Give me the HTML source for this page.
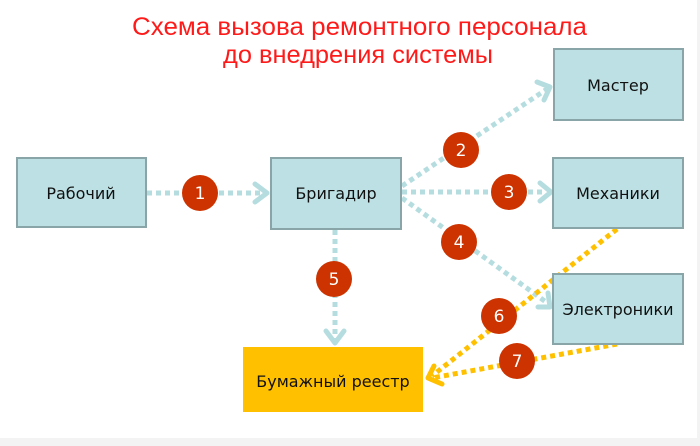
<!DOCTYPE html>
<html><head><meta charset="utf-8"><style>
html,body{margin:0;padding:0;background:#fff;}
svg{display:block;}
text{font-family:"DejaVu Sans","Liberation Sans",sans-serif;}
</style></head><body>
<svg width="700" height="446" viewBox="0 0 700 446" xmlns="http://www.w3.org/2000/svg">
<rect x="0" y="0" width="700" height="446" fill="#fff"/>
<rect x="0" y="438" width="700" height="8" fill="#f3f3f3"/>
<rect x="697" y="0" width="3" height="446" fill="#f3f3f3"/>
<text x="132" y="35" font-size="25" fill="#ff1a1a" textLength="455" lengthAdjust="spacingAndGlyphs" style="font-family:'Liberation Sans',sans-serif">Схема вызова ремонтного персонала</text>
<text x="223" y="63" font-size="25" fill="#ff1a1a" textLength="270" lengthAdjust="spacingAndGlyphs" style="font-family:'Liberation Sans',sans-serif">до внедрения системы</text>

<g stroke="#b5dde0" stroke-width="5" fill="none">
<g stroke-dasharray="5 4">
<line x1="147" y1="193" x2="262" y2="193"/>
<line x1="402" y1="186" x2="547" y2="89"/>
<line x1="402" y1="192" x2="546" y2="192"/>
<line x1="402" y1="198" x2="546" y2="302"/>
<line x1="335" y1="230" x2="335" y2="340"/>
</g>
<g stroke-linecap="round" stroke-linejoin="round">
<polyline points="255,184 267,193 255,202"/>
<polyline points="537,82 550,87 544,100"/>
<polyline points="540,183 551,192 540,201"/>
<polyline points="538,307 550,307 548,293"/>
<polyline points="326,331 335,343 344,331"/>
</g>
</g>

<g stroke="#ffc000" stroke-width="5" fill="none">
<g stroke-dasharray="5 4">
<line x1="617" y1="229" x2="432" y2="376"/>
<line x1="617" y1="344" x2="432" y2="378"/>
</g>
<polyline points="434,366 428,378 442,384" stroke-linecap="round" stroke-linejoin="round"/>
</g>

<g stroke="#8aa5a8" stroke-width="2" fill="#bce0e3">
<rect x="17" y="158" width="129" height="69"/>
<rect x="271" y="158" width="130" height="71"/>
<rect x="554" y="49" width="129" height="71"/>
<rect x="553" y="158" width="130" height="70"/>
<rect x="553" y="274" width="130" height="70"/>
</g>
<rect x="243" y="347" width="180" height="65" fill="#ffc000"/>

<g font-size="16" fill="#111" text-anchor="middle">
<text x="81" y="199">Рабочий</text>
<text x="336" y="199">Бригадир</text>
<text x="618" y="91">Мастер</text>
<text x="618" y="199">Механики</text>
<text x="618" y="315">Электроники</text>
<text x="333" y="387">Бумажный реестр</text>
</g>

<g fill="#cc3300">
<circle cx="200" cy="193" r="18"/>
<circle cx="461" cy="150" r="18"/>
<circle cx="509" cy="192" r="18"/>
<circle cx="459" cy="242" r="18"/>
<circle cx="334" cy="279" r="18"/>
<circle cx="499" cy="316" r="18"/>
<circle cx="517" cy="361" r="18"/>
</g>
<g font-size="17" fill="#fff" text-anchor="middle" style="font-family:'Liberation Sans',sans-serif">
<text x="200" y="199">1</text>
<text x="461" y="156">2</text>
<text x="509" y="198">3</text>
<text x="459" y="248">4</text>
<text x="334" y="285">5</text>
<text x="499" y="322">6</text>
<text x="517" y="367">7</text>
</g>
</svg>
</body></html>
